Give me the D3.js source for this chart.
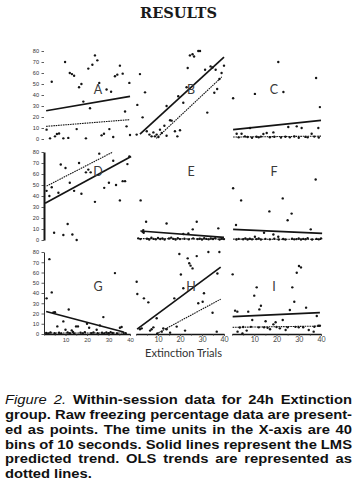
<!DOCTYPE html>
<html><head><meta charset="utf-8">
<script src="https://cdn.jsdelivr.net/npm/d3@7"></script>
<style>body{margin:0;background:#fff}svg{display:block}</style>
</head><body><svg id="c" width="361" height="484"></svg>
<script>
// ---------------- DATA ----------------
const panelLetters = ["A","B","C","D","E","F","G","H","I"];
const xTicks = [10,20,30,40];
const xMinorTicks = [0,5,15,25,35];
const yTicks = [0,10,20,30,40,50,60,70,80];
const axisTitle = "Extinction Trials";
const pageTitle = "RESULTS";

const aTrial = [1.2,2.8,3.6,5.1,6,7,9,9.8,11.3,12,13,14,15.2,16.3,17.4,18.3,19.5,20.6,21.4,22.5,23.7,24.8,25.7,26.8,27.9,29.1,30.4,31.2,32.2,33,34.1,35.3,36.6,37.7,38.4,39.7,40];
const aFreeze = [8.5,0.6,52,2.4,4.5,5,0.6,70,1,60,59,57.5,9,47,50,34,0.6,64,28,67.5,76,71.5,51,3.3,4.8,45,9,43,1.8,57,58.5,66.7,59.4,25,11.5,51,3.6];
const aLMS = [[1,25.7],[40,38.8]];
const aOLS = [[1,11.5],[40,17.6]];

const bTrial = [0.3,0.6,1.8,3,4.1,4.9,6.1,7.1,7.9,8.6,9.4,10.2,10.9,11.7,12.9,13.9,13.9,15.5,16.2,17.7,18.8,19.2,20,21.5,23,23.5,24.5,25.7,26.4,28.3,29.1,31.4,32.4,33.9,34.8,35.6,36.2,36.9,37.9,38.9,40];
const bFreeze = [4,31,59,19.7,42.4,7,4,2.4,6,2.4,4,1.8,8.5,5.5,12.1,3,30,17,16.7,7,2.4,38.8,7.9,33,47,64.5,76,77,75,80,80,63,24,66,65,42,63,45.5,54.5,60,66.7];
const bLMS = [[1.8,4.5],[40,74.5]];
const bOLS = [[9.2,0.5],[39,56.4]];

const cTrial = [0.5,2.1,3,4.3,5.8,7,8.1,9,10.3,11,12,13,14.1,15.6,17,18.6,19,20.8,22,23.1,24,25.3,26,28,29.1,30,31.3,33,34,35.8,37,37.8,38.8,39,39.5];
const cFreeze = [37,4.8,1.5,4.8,2.4,1.8,10,1.2,41,2,1.5,2.2,4.5,5.5,1.6,6,2,70,1.4,42.7,2.1,10.9,1.5,2.3,11.5,1.2,10,1.9,1.5,4.8,2.2,55.5,10,1.4,29];
const cLMS = [[0.5,8.5],[40,17]];
const cOLS = [[0.5,1.8],[40,2.6]];

const dTrial = [1.2,2.5,3.6,4.7,6.7,7.8,9,10,11,12,13.2,14,15.2,16.3,17.4,19.5,20.6,21.7,23.7,25.7,28,30.2,32.2,33.5,35.3,36.6,37.7,38.8,39.7];
const dFreeze = [44.7,40,48,6.6,43,68.6,4.5,65.5,14.5,52,5,44.7,0,70,42,61.5,64,61.5,34.7,78.5,47.4,52,72,50,36,53.5,53.5,69,76];
const dLMS = [[0.5,33.5],[40.5,76]];
const dOLS = [[1.2,49],[32,80]];

const eTrial = [1,2,2.1,3,3.3,3.5,4.6,5,6,7,8,9,10,11,12,13,13.9,15,16,17,18,19,20,21.5,22,23.8,24,25.8,26,27.6,28,29,30,31,32,33,34,35,36,37.4,38,39,40];
const eFreeze = [1.5,0.8,36,7.5,9,6.5,16.6,1.2,0.5,2,1,0.6,1.8,0.9,1.4,0.4,15,1.3,2.2,1,0.5,1.6,0.8,5.4,1.2,6,0.6,9.7,1.5,16.6,0.8,1.1,0.4,1.6,1,0.6,1.3,0.9,1.7,10.6,0.5,1.2,0.8];
const eLMS = [[2,8.2],[40,2.4]];
const eOLS = [[1,1.3],[40,0.8]];

const fTrial = [0.5,1.8,2,3,4.1,5,6,7,8,9,10.3,11,12,13,14.4,15,16.8,17,18.6,19,20.8,21,22.8,23,24,25,26.8,27,28,29,30,31,32,33,34,35.4,36,37.6,38,39,40];
const fFreeze = [47,13.6,0.5,1,36,0.7,1.5,0.4,1.2,0.6,3,0.8,1.3,0.5,6.6,1,26,0.6,5,1.1,3,0.5,37.8,0.9,0.4,18,24,1.2,0.6,0.8,1.4,0.5,1,0.7,1.6,9.7,0.5,55,1,0.6,1.5];
const fLMS = [[0.5,9.7],[40.5,6]];
const fOLS = [[0.5,0.8],[40.5,0.6]];

const gTrial = [1,1.2,2,2.5,3,3.6,4.4,5,5.1,6.2,7,8,9,10,11,11.5,12,12.9,13.5,14,14.9,15.8,17,18,19,20,21,22,23,24.5,25,26,27,27.6,28,29,30,31,32,33,34,35.3,36.1,37,38];
const gFreeze = [1,34.8,0.5,73,1.5,40.6,21,0.8,21.3,7.4,1.2,0.6,12.3,4.2,1.5,23.9,0.8,3.5,1.9,0.5,7.4,7.4,1.3,0.6,1.8,10,6.1,0.9,1.5,4.2,0.7,8.4,1.2,16.5,0.5,1.4,0.8,1.7,1,59.4,0.6,6.1,6.8,1.2,0.8];
const gLMS = [[1,22],[37,1.9]];
const gOLS = [[1,1],[38,1]];

const hTrial = [0.3,0.6,1.8,2.6,3.6,5.6,6.4,7.1,7.9,9.4,9.7,11.7,12.4,13.9,15.5,17.4,18.5,19.7,20.4,21.5,22.3,23.5,24.2,24.8,25.7,27.6,28.3,30.3,30.9,32.9,34.8,36.7,37,37.9];
const hFreeze = [51,39,4.6,5.5,34.8,30.9,3.3,4.6,6.5,15.3,0.6,2.3,5.5,4.6,1.3,34.8,7.2,78,58,44.6,3.3,73.8,69,66.7,64,76,30,31.5,39.7,80,20.8,2.3,59,80];
const hLMS = [[0.5,4.8],[38.5,65.2]];
const hOLS = [[9.2,0.1],[38.5,34]];

const iTrial = [0.3,1.4,2.4,2.5,3.5,4.7,5,6.6,7.3,8.5,9.1,10,11.1,12,12.3,13,14.4,15.1,16,17.1,18.6,19.6,20,21.5,22.8,24.1,25,26,27.1,28,28.5,29.1,30,30.1,31,32,33.3,34.5,36.7,37,38.1,38.8,39.5];
const iFreeze = [58.2,22.8,21.8,2.3,6.3,0.6,6.8,3.3,21.8,7,13.7,37.4,45.5,6.5,24,27.6,6.5,12.4,6,4.6,9.4,11.4,6.8,5.5,13.7,3.9,6.5,23.4,45.5,31.5,7,59.8,6.5,66.3,65,6.6,25.7,3.9,2.3,7.1,17.6,8.1,8];
const iLMS = [[0.3,17],[39.5,20.8]];
const iOLS = [[0.3,6.5],[39.5,7.7]];

const captionLines = [
  "Figure 2. Within-session data for 24h Extinction",
  "group. Raw freezing percentage data are present-",
  "ed as points. The time units in the X-axis are 40",
  "bins of 10 seconds. Solid lines represent the LMS",
  "predicted trend. OLS trends are represented as",
  "dotted lines."
];

// ---------------- LAYOUT ----------------
const cols = [{x0:44,x1:130},{x0:136,x1:224},{x0:232,x1:321}];
const rows = [{y0:139,y1:51},{y0:240,y1:152},{y0:334,y1:252}];
const letterX = [98,191,274];
const letterY = [94,175.5,291];

const series = [
  [aTrial,aFreeze,aLMS,aOLS],[bTrial,bFreeze,bLMS,bOLS],[cTrial,cFreeze,cLMS,cOLS],
  [dTrial,dFreeze,dLMS,dOLS],[eTrial,eFreeze,eLMS,eOLS],[fTrial,fFreeze,fLMS,fOLS],
  [gTrial,gFreeze,gLMS,gOLS],[hTrial,hFreeze,hLMS,hOLS],[iTrial,iFreeze,iLMS,iOLS]
];

const svg = d3.select("#c");
const INK = "#141414";

// title
svg.append("text").attr("x",178.5).attr("y",18.3).attr("text-anchor","middle")
  .attr("font-family","'DejaVu Serif', serif").attr("font-weight","bold").attr("font-size",14)
  .attr("textLength",77).attr("lengthAdjust","spacingAndGlyphs").attr("fill","#1a1a1a").text(pageTitle);

series.forEach((s,k)=>{
  const ci = k%3, ri = Math.floor(k/3);
  const c = cols[ci], r = rows[ri];
  const x = d3.scaleLinear().domain([0,40]).range([c.x0,c.x1]);
  const y = d3.scaleLinear().domain([0,80]).range([r.y0,r.y1]);
  const g = svg.append("g");
  const line = d3.line().x(d=>x(d[0])).y(d=>y(d[1]));

  if(ci===0){
    const ya = g.append("g").attr("transform",`translate(${c.x0},0)`)
      .call(d3.axisLeft(y).tickValues(yTicks).tickSize(2.5).tickSizeOuter(0).tickPadding(2.5));
    ya.selectAll("text").attr("font-family","'Liberation Sans', Arial, sans-serif").attr("font-size",5.6).attr("fill","#333");
    ya.selectAll(".tick line").attr("stroke","#333").attr("stroke-width",0.8);
    ya.select(".domain").attr("stroke",INK).attr("stroke-width", ri===1?2:(ri===2?0.9:0)).attr("opacity", ri===0?0:1);
  }
  if(ri===2){
    const xa = g.append("g").attr("transform",`translate(0,${r.y0})`)
      .call(d3.axisBottom(x).tickValues(xTicks).tickSize(2).tickSizeOuter(0).tickPadding(1.5));
    xa.selectAll("text").attr("font-family", ci===0 ? "'Liberation Sans', Arial, sans-serif" : "Lato, 'Open Sans', sans-serif")
      .attr("font-size", ci===0?6:7).attr("fill","#444");
    xa.selectAll(".tick line").attr("stroke","#333").attr("stroke-width",0.8);
    xa.select(".domain").attr("stroke",INK).attr("stroke-width",1.4);
    const xm = g.append("g").attr("transform",`translate(0,${r.y0})`)
      .call(d3.axisBottom(x).tickValues(xMinorTicks).tickSize(1.6).tickFormat(""));
    xm.select(".domain").remove();
    xm.selectAll(".tick line").attr("stroke","#333").attr("stroke-width",0.8);
  }

  g.append("g").selectAll("circle").data(d3.zip(s[0],s[1])).join("circle")
    .attr("cx",d=>x(d[0])).attr("cy",d=>y(d[1])).attr("r",1.2).attr("fill",INK);
  g.append("path").attr("d",line(s[2])).attr("fill","none").attr("stroke",INK).attr("stroke-width",1.7);
  g.append("path").attr("d",line(s[3])).attr("fill","none").attr("stroke",INK).attr("stroke-width",1.1)
    .attr("stroke-dasharray","1.6,0.8");

  svg.append("text").attr("x",letterX[ci]).attr("y",letterY[ri]).attr("text-anchor","middle")
    .attr("font-family","Lato, 'Open Sans', sans-serif").attr("font-size",12.5).attr("fill","#3a3a3a")
    .text(panelLetters[k]);
});

svg.append("text").attr("x",183.5).attr("y",356.5).attr("text-anchor","middle")
  .attr("font-family","Lato, 'Open Sans', sans-serif").attr("font-size",11).attr("fill","#333")
  .attr("textLength",77).attr("lengthAdjust","spacingAndGlyphs").text(axisTitle);

// caption, justified with one common horizontal stretch
const capX0 = 5, capX1 = 352, capY0 = 404, capDy = 14.85, minGap = 4;
const capLines = captionLines.map((ln,i)=>{
  const words = ln.split(" ");
  const yy = capY0 + i*capDy;
  const nodes = words.map((w,j)=>{
    const it = (i===0 && j<2);
    return svg.append("text").attr("y",yy)
      .attr("font-family","'Liberation Sans', Arial, sans-serif").attr("font-size",12.5)
      .attr("font-weight", it?"normal":"bold").attr("font-style", it?"italic":"normal")
      .attr("fill","#111").text(w);
  });
  const widths = nodes.map(n=>n.node().getComputedTextLength());
  return {nodes, widths, total:d3.sum(widths)};
});
const stretch = d3.min(capLines.slice(0,-1), L => (capX1-capX0-minGap*(L.nodes.length-1))/L.total);
capLines.forEach((L,i)=>{
  const last = i===capLines.length-1;
  const gap = last ? minGap : (capX1-capX0-L.total*stretch)/(L.nodes.length-1);
  let xx = capX0;
  L.nodes.forEach((n,j)=>{
    n.attr("x",xx).attr("textLength",L.widths[j]*stretch).attr("lengthAdjust","spacingAndGlyphs");
    xx += L.widths[j]*stretch + gap;
  });
});
</script>
</body></html>
